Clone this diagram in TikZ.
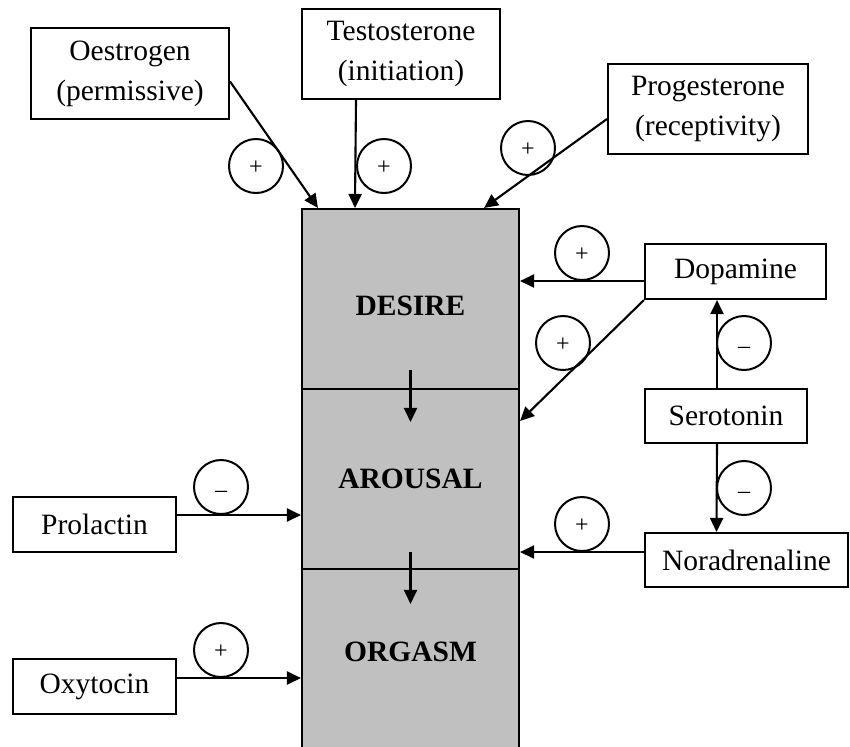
\documentclass[tikz,border=0pt]{standalone}
\usepackage{fontspec}
\setmainfont{Liberation Serif}
\usetikzlibrary{arrows.meta}
\definecolor{stagegray}{RGB}{192,192,192}
\tikzstyle{hormone} = [rectangle, draw, line width = 1.05pt, align = center, inner sep = 0pt, font = \fontsize{14.75}{20}\selectfont]
\tikzstyle{stage} = [rectangle, draw, fill = stagegray, line width = 1.05pt, minimum width = 108.5pt, minimum height = 90pt, font = \bfseries\fontsize{14.75}{20}\selectfont]
\tikzstyle{sign} = [circle, draw, line width = 1pt, minimum size = 27pt, inner sep = 0pt, text height = 2.1ex, text depth = .25ex, font = \fontsize{12}{12}\selectfont]
\tikzstyle{minus} = [sign, text height = 2.6ex]
\tikzstyle{arrow} = [draw, -{Triangle[length = 7pt, width = 6.5pt]}, line width = 1.05pt]

\begin{document}
\begin{tikzpicture}[x = 0.5pt, y = -0.5pt]
            \clip (0, 0) rectangle (850, 746);
            \node[stage, text height = 16.7pt, text depth = 0pt] (des) at (410.5, 299) {DESIRE};
            \node[stage] (aro) at (410.5, 479) {AROUSAL};
            \node[stage, text depth = 7pt] (org) at (410.5, 659) {ORGASM};

            \node[hormone, minimum width = 99pt, minimum height = 45.5pt] (oes) at (130, 73.5) {Oestrogen\\(permissive)};
            \node[hormone, minimum width = 99pt, minimum height = 45pt] (tes) at (401, 54) {Testosterone\\(initiation)};
            \node[hormone, minimum width = 100pt, minimum height = 45pt] (pro) at (708, 109) {Progesterone\\(receptivity)};
            \node[hormone, minimum width = 90.5pt, minimum height = 27.5pt] (dop) at (735.5, 271.5) {Dopamine};
            \node[hormone, minimum width = 81pt, minimum height = 27pt] (ser) at (726, 416) {Serotonin};
            \node[hormone, minimum width = 101.5pt, minimum height = 27pt] (nor) at (746.5, 560) {Noradrenaline};
            \node[hormone, minimum width = 81.5pt, minimum height = 27.5pt] (prl) at (94.5, 524.5) {Prolactin};
            \node[hormone, minimum width = 81.5pt, minimum height = 27.5pt] (oxy) at (94.5, 686.5) {Oxytocin};

            \node[sign] (s1) at (256, 166) {+};
            \node[sign] (s2) at (384, 166) {+};
            \node[sign] (s3) at (528, 148) {+};
            \node[sign] (s4) at (582, 253) {+};
            \node[sign] (s5) at (563, 343) {+};
            \node[minus] (s6) at (744, 343) {\textendash};
            \node[minus] (s7) at (744, 488) {\textendash};
            \node[sign] (s8) at (582, 524) {+};
            \node[minus] (s9) at (221, 487) {\textendash};
            \node[sign] (s10) at (221, 650) {+};

            \path[arrow] ([yshift = -4pt]oes.east) -- ([xshift = 8.5pt]des.north west);
            \path[arrow] ([xshift = -22.5pt]tes.south) -- ([xshift = 27pt]des.north west);
            \path[arrow] ([yshift = -5pt]pro.west) -- ([xshift = -18pt]des.north east);
            \path[arrow] ([yshift = -4.75pt]dop.west) -- ([yshift = 9pt]des.east);
            \path[arrow] (dop.south west) -- ([yshift = -16.5pt]aro.north east);
            \path[arrow] ([xshift = -4.5pt]ser.north) -- ([xshift = -9.25pt]dop.south);
            \path[arrow] ([xshift = -4.5pt]ser.south) -- ([xshift = -15pt]nor.north);
            \path[arrow] ([yshift = 4pt]nor.west) -- ([yshift = -36.5pt]aro.east);
            \path[arrow] ([yshift = 4.75pt]prl.east) -- ([yshift = -18pt]aro.west);
            \path[arrow] ([yshift = 4.25pt]oxy.east) -- ([yshift = -9.5pt]org.west);
            \path[arrow] ([yshift = 10pt]des.south) -- ([yshift = -17pt]aro.north);
            \path[arrow] ([yshift = 9pt]aro.south) -- ([yshift = -18pt]org.north);
        \end{tikzpicture}
\end{document}
